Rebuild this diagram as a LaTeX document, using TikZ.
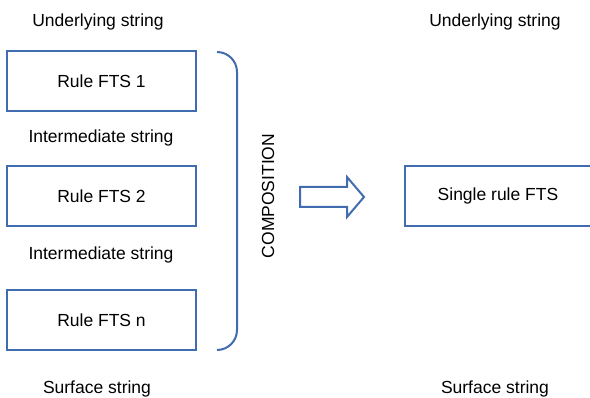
\documentclass[tikz,border=0pt]{standalone}
\usepackage{fontspec}
\setmainfont{Liberation Sans}
\usetikzlibrary{positioning}
\definecolor{rulecol}{RGB}{66,108,176}
\tikzset{
  rulebox/.style={draw=rulecol, line width=2pt, minimum width=189pt, minimum height=60pt, inner sep=0pt},
  strlabel/.style={inner sep=0pt, font=\fontsize{17.5}{21}\selectfont},
}
\begin{document}
\begin{tikzpicture}[x=1pt, y=-1pt, font=\fontsize{17.5}{21}\selectfont]
          \useasboundingbox (0,0) rectangle (590,398);
          \clip (0,0) rectangle (590,398);

          % Cascada de regles (esquerra)
          \node[strlabel] (under1) at (98,21.5) {Underlying string};
          \node[rulebox] (fts1) at (101.5,81) {Rule FTS 1};
          \node[strlabel] (inter1) at (101,137.5) {Intermediate string};
          \node[rulebox] (fts2) at (101.5,196) {Rule FTS 2};
          \node[strlabel] (inter2) at (101,254.5) {Intermediate string};
          \node[rulebox] (ftsn) at (101.5,320) {Rule FTS n};
          \node[strlabel] (surf1) at (97,389) {Surface string};

          % Clau de composicio
          \draw[rulecol, line width=2pt] (217,52) arc[start angle=-90, end angle=0, radius=20]
            -- (237,330) arc[start angle=0, end angle=90, radius=20];
          \node[strlabel, rotate=90] (comp) at (268,196) {COMPOSITION};

          % Fletxa
          \draw[rulecol, line width=2pt, line join=miter]
            (300,187) -- (347,187) -- (347,177) -- (364,197) -- (347,217)
            -- (347,207) -- (300,207) -- cycle;

          % Regla unica (dreta)
          \node[strlabel] (under2) at (495,21.5) {Underlying string};
          \node[rulebox, minimum width=186pt] (single) at (498,196) {Single rule FTS};
          \node[strlabel] (surf2) at (495,389) {Surface string};
\end{tikzpicture}
\end{document}
